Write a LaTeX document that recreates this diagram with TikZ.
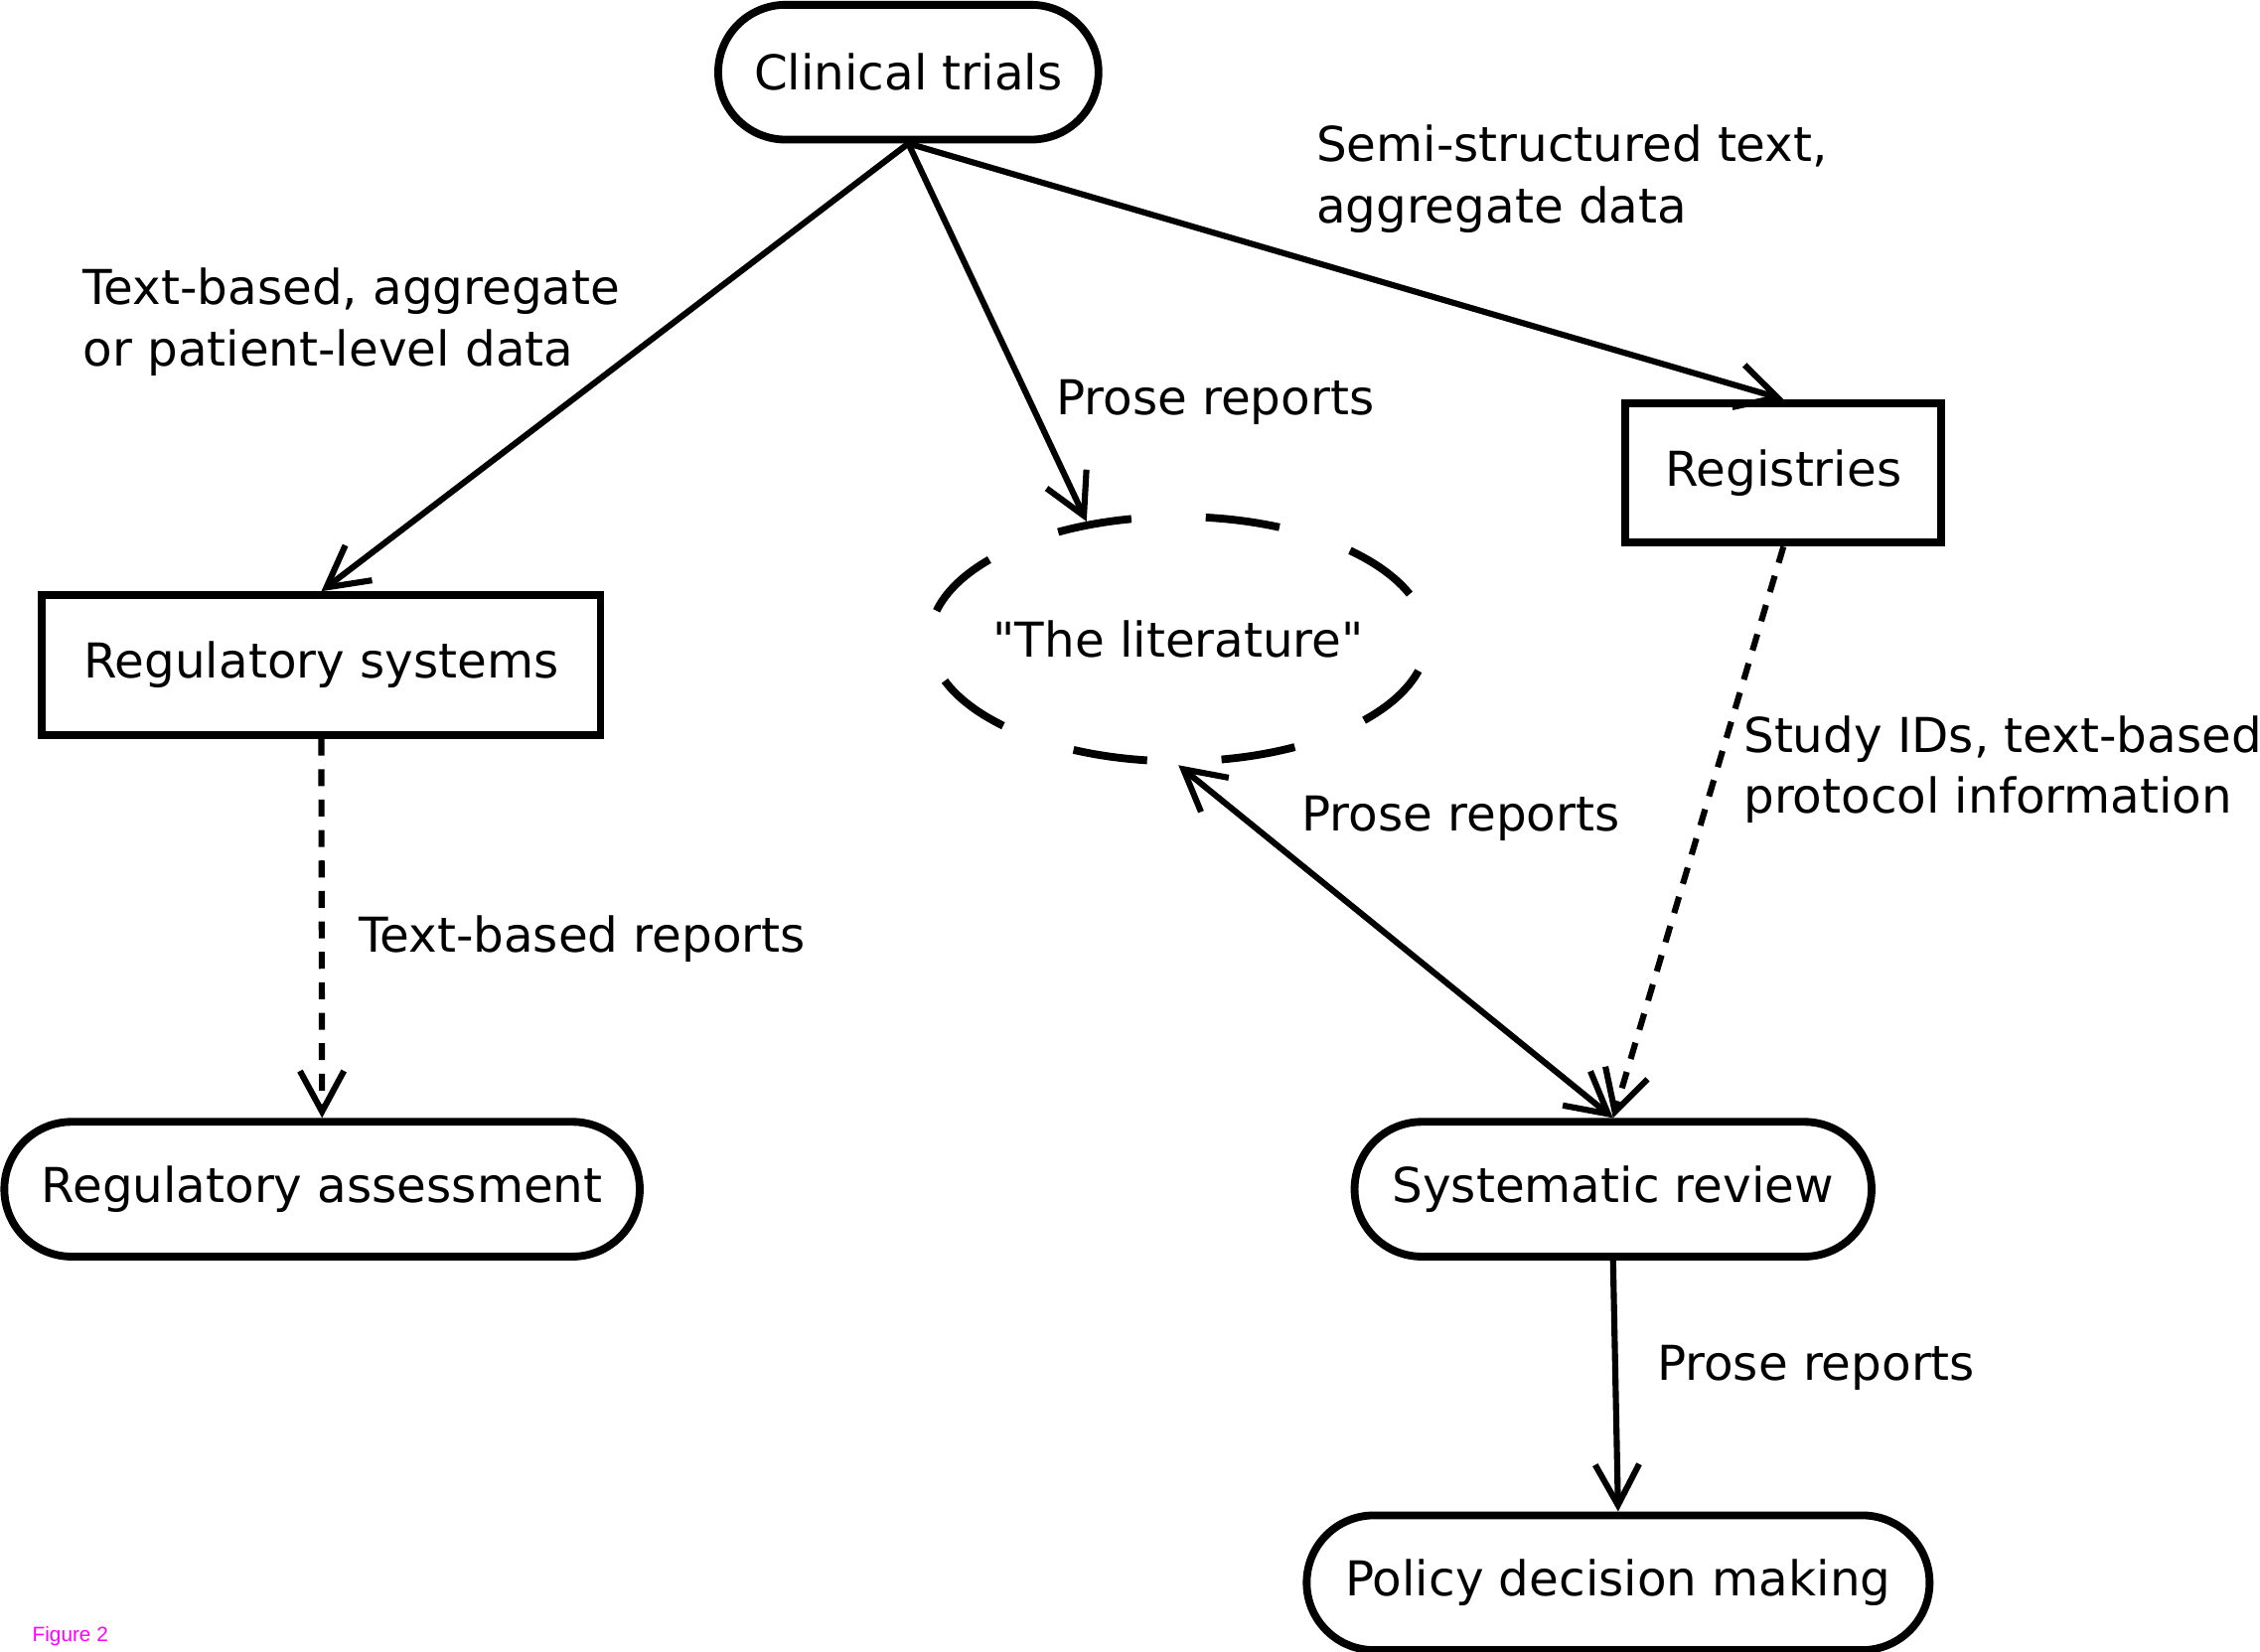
\documentclass[tikz,border=0pt]{standalone}
\usepackage{fontspec}
\setmainfont{DejaVu Sans}
\newfontfamily\figfont{Liberation Sans}
\usepackage{xcolor}
\usepackage{tikz}
\usetikzlibrary{shapes.geometric}
\usetikzlibrary{shapes.misc}
\usetikzlibrary{arrows.meta}

\definecolor{figmagenta}{RGB}{255,0,255}
\newcommand{\dq}{\XeTeXglyph\XeTeXcharglyph"22\relax}

\tikzset{
  >={Straight Barb[length=12pt,width=13pt]},
  pill/.style={draw, rounded rectangle, line width=2.3pt, minimum height=1.40cm, inner sep=0pt},
  boxed/.style={draw, rectangle, line width=2.3pt, minimum height=1.45cm, inner sep=0pt},
  flow/.style={line width=1.8pt, ->},
  dflow/.style={flow, dash pattern=on 5pt off 4pt},
  note/.style={anchor=west, align=left, inner sep=0pt}
}

\begin{document}
\begin{tikzpicture}[x=0.015cm, y=-0.015cm, font=\fontsize{14.2}{18}\selectfont]
        \useasboundingbox (0, 0) rectangle (1565, 1143.3);

        \node[pill, minimum width=3.95cm] (trials) at (629, 50) {Clinical trials};
        \node[boxed, minimum width=3.28cm] (reg) at (1235, 327.5) {Registries};
        \node[boxed, minimum width=5.8cm] (regsys) at (222.5, 460.5) {Regulatory systems};
        \node[draw, ellipse, line width=2.3pt, minimum width=5.13cm, minimum height=2.54cm,
            inner xsep=-0.1cm, inner ysep=0pt, dash pattern=on 22pt off 22pt, dash phase=29.5pt]
            (lit) at (816, 442.5) {\dq The literature\dq};
        \node[pill, minimum width=6.6cm] (regassess) at (223, 823.5) {Regulatory assessment};
        \node[pill, minimum width=5.37cm] (sysrev) at (1117, 823.5) {Systematic review};
        \node[pill, minimum width=6.47cm] (policy) at (1120.5, 1096) {Policy decision making};

        \draw[flow] (trials.south) -- (regsys.north);
        \draw[flow] (trials.south) -- (lit.128);
        \draw[flow] (trials.south) -- (reg.north);
        \draw[flow, <->] (lit.south) -- (sysrev.north);
        \draw[dflow] (reg.south) -- (sysrev.north);
        \draw[dflow] (regsys.south) -- (regassess.north);
        \draw[flow] (sysrev.south) -- (policy.north);

        \node[note] (lblagg) at (57, 223) {Text-based, aggregate\\or patient-level data};
        \node[note] (lblsemi) at (911, 124) {Semi-structured text,\\aggregate data};
        \node[note] (lblprosea) at (731, 278.5) {Prose reports};
        \node[note] (lblids) at (1207, 533) {Study IDs, text-based\\protocol information};
        \node[note] (lblproseb) at (901, 567) {Prose reports};
        \node[note] (lbltext) at (248, 650.5) {Text-based reports};
        \node[note] (lblprosec) at (1147, 947.5) {Prose reports};

        \node[anchor=west, inner sep=0pt, text=figmagenta, font=\figfont\fontsize{6.1}{7}\selectfont]
            (figlbl) at (22, 1133) {Figure 2};
    \end{tikzpicture}
\end{document}
